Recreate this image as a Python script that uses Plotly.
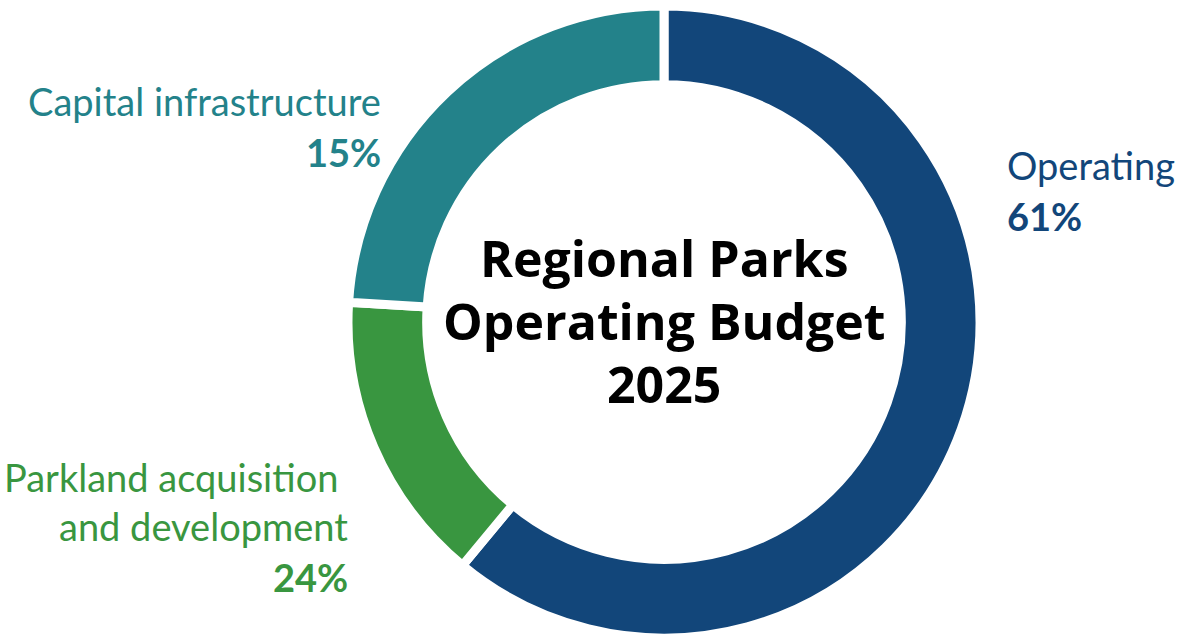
import plotly.graph_objects as go

W, H = 1181, 638

# Data (slice shares as drawn, clockwise from 12 o'clock)
segments = ["Operating", "Parkland acquisition and development", "Capital infrastructure"]
slice_shares = [61, 15, 24]
slice_colors = ["#12467A", "#399640", "#23828A"]

# Printed labels
label_lines = {
    "Operating": ["Operating"],
    "Parkland acquisition and development": ["Parkland acquisition\u00a0", "and development"],
    "Capital infrastructure": ["Capital infrastructure"],
}
label_pct = {"Operating": "61%", "Parkland acquisition and development": "24%", "Capital infrastructure": "15%"}
title_lines = ["Regional Parks", "Operating Budget", "2025"]

FONT = "Lato"
TITLE_FONT = "Open Sans"

fig = go.Figure(go.Pie(
    labels=segments,
    values=slice_shares,
    sort=False,
    direction="clockwise",
    rotation=0,
    hole=0.751,
    marker=dict(colors=slice_colors, line=dict(color="white", width=9)),
    textinfo="none",
    hoverinfo="label+percent",
    showlegend=False,
    domain=dict(x=[348 / W, 980 / W], y=[0, 632 / H]),
))

def px(x):
    return x / W

def py(y):
    return 1 - y / H

ann = []
# title in the hole
for line, yc in zip(title_lines, [258, 321, 384]):
    ann.append(dict(text=f"<b>{line}</b>", x=px(664), y=py(yc), xref="paper", yref="paper",
                    xanchor="center", yanchor="middle", showarrow=False,
                    font=dict(family=TITLE_FONT, size=50, color="black")))

# label layout: (segment, anchor x, xanchor, line y-centers, pct y-center)
layout_spec = [
    ("Capital infrastructure", 383, "right", [101], 152),
    ("Operating", 1005, "left", [165], 216),
    ("Parkland acquisition and development", 350, "right", [477, 526], 577),
]
color_of = dict(zip(segments, slice_colors))
for seg, xa, anc, ys, yp in layout_spec:
    for line, yc in zip(label_lines[seg], ys):
        ann.append(dict(text=line, x=px(xa), y=py(yc), xref="paper", yref="paper",
                        xanchor=anc, yanchor="middle", showarrow=False,
                        font=dict(family=FONT, size=38, color=color_of[seg])))
    ann.append(dict(text=f"<b>{label_pct[seg]}</b>", x=px(xa), y=py(yp), xref="paper", yref="paper",
                    xanchor=anc, yanchor="middle", showarrow=False,
                    font=dict(family=FONT, size=38, color=color_of[seg])))

fig.update_layout(
    width=W, height=H,
    margin=dict(l=0, r=0, t=0, b=0),
    paper_bgcolor="white", plot_bgcolor="white",
    annotations=ann,
)

fig.write_html("out.html", config={"displayModeBar": False},
               post_script="document.body.style.margin='0';")
